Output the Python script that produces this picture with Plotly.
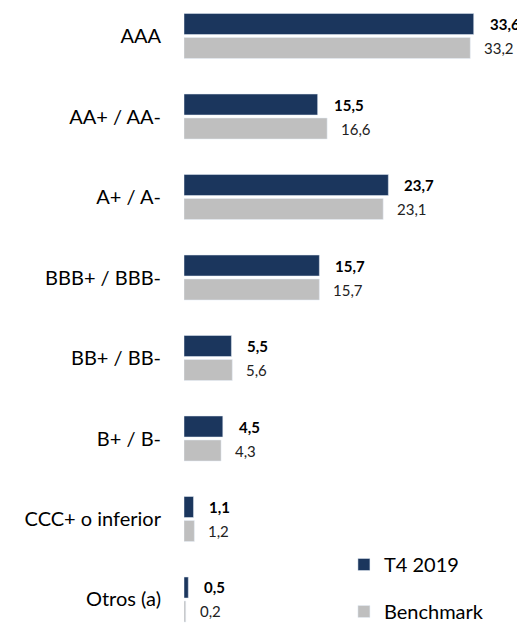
import plotly.graph_objects as go

categories = ["AAA", "AA+ / AA-", "A+ / A-", "BBB+ / BBB-", "BB+ / BB-", "B+ / B-",
              "CCC+ o inferior", "Otros (a)"]
t4_2019 = [33.6, 15.5, 23.7, 15.7, 5.5, 4.5, 1.1, 0.5]
benchmark = [33.2, 16.6, 23.1, 15.7, 5.6, 4.3, 1.2, 0.2]

NAVY = "#1B365D"
GRAY = "#BFBFBF"
FONT = "Lato"

def fmt(v):
    return f"{v:.1f}".replace(".", ",")

fig = go.Figure()
fig.add_trace(go.Bar(y=categories, x=t4_2019, orientation="h", name="T4 2019",
                     marker_color=NAVY, legendgroup="a", hoverinfo="skip"))
fig.add_trace(go.Bar(y=categories, x=benchmark, orientation="h", name="Benchmark",
                     marker_color=GRAY, legendgroup="b", hoverinfo="skip"))

annotations = []
for c, v in zip(categories, t4_2019):
    annotations.append(dict(x=v, y=c, text=f"<b>{fmt(v)}</b>", showarrow=False,
                            xanchor="left", yanchor="middle", xshift=14, yshift=12,
                            font=dict(family=FONT, size=15, color="#000000")))
for c, v in zip(categories, benchmark):
    annotations.append(dict(x=v, y=c, text=fmt(v), showarrow=False,
                            xanchor="left", yanchor="middle", xshift=12, yshift=-12,
                            font=dict(family=FONT, size=15, color="#222222")))

fig.update_layout(
    width=517, height=615,
    margin=dict(l=176, r=0, t=0, b=0, autoexpand=False),
    paper_bgcolor="white", plot_bgcolor="white",
    barmode="group", bargap=0.404, bargroupgap=0.125,
    font=dict(family=FONT, size=20, color="#000000"),
    xaxis=dict(range=[0, 341 / 8.622], visible=False, fixedrange=True),
    yaxis=dict(range=[7.292, -0.348], showline=False, showgrid=False, zeroline=False,
               ticks="", ticklabelstandoff=22, tickfont=dict(family=FONT, size=20),
               fixedrange=True),
    legend=dict(x=0.469, y=-0.013, xanchor="left", yanchor="bottom",
                traceorder="grouped", tracegroupgap=18,
                font=dict(family=FONT, size=20), bgcolor="rgba(0,0,0,0)"),
    annotations=annotations,
    showlegend=True,
)

fig.write_html("out.html")
